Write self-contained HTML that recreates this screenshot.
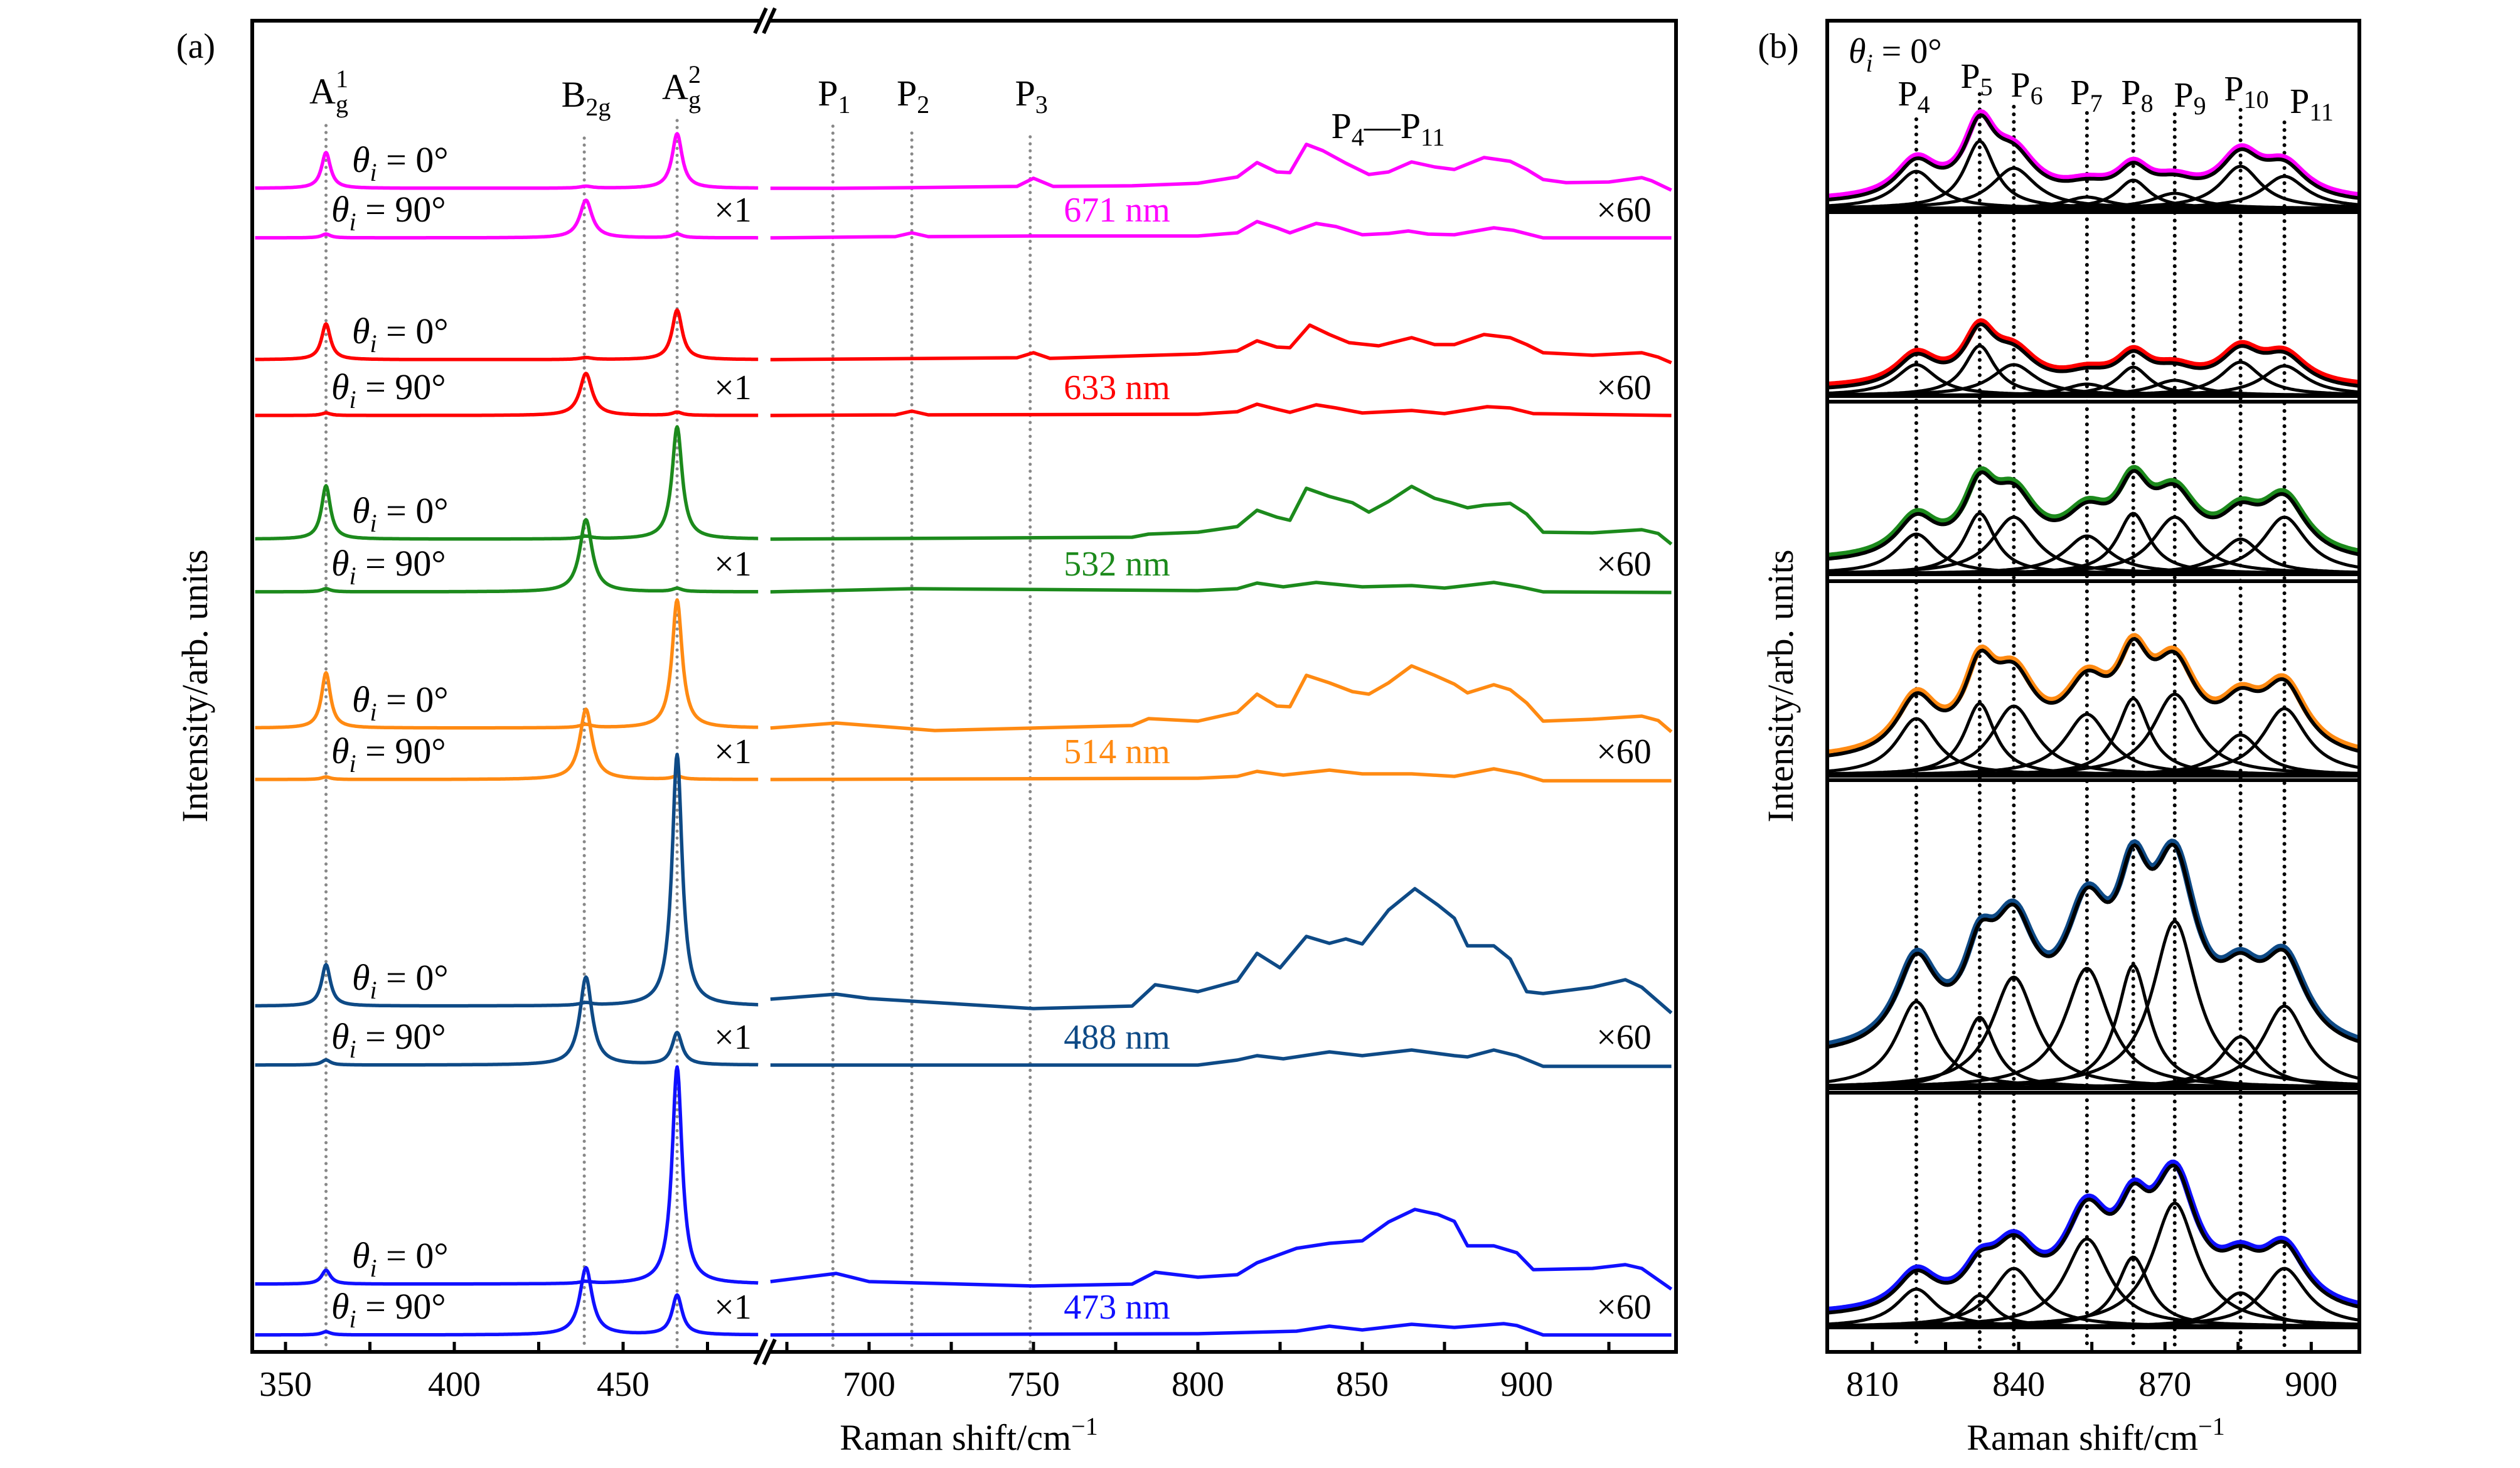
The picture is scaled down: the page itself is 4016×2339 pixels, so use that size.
<!DOCTYPE html>
<html><head><meta charset="utf-8"><style>
html,body{margin:0;padding:0;background:#fff;}
svg{display:block;font-family:"Liberation Serif",serif;}
</style></head><body>
<svg id="fig" width="4016" height="2339" viewBox="0 0 4016 2339" xmlns="http://www.w3.org/2000/svg">
<rect width="4016" height="2339" fill="#fff"/>
</svg>
<script>
// ---------- Panel (a) data ----------
const colors = ['#ff00ff','#ff0000','#1c8a1c','#ff8a12','#0e4a86','#1010ff'];
const lasers = ['671 nm','633 nm','532 nm','514 nm','488 nm','473 nm'];
const base0 = [300,573,859,1160,1603,2046];
const base90 = [379,662,943,1242,1697,2127];
const modePos = [362,439,466];
const modeHw = [1.6,2.2,1.8];
const peaks0 = [[57,3,87],[57,3,79],[85,4,179],[88,5,204],[66,4,401],[22,3,346]];
const peaks90 = [[6,60,6],[4,67,5],[5,115,5],[4,112,5],[8,140,51],[5,107,63]];
const mag0S=[670,690,713,745,750,756,780,800,812,818,824,828,833,838,845,852,858,865,872,878,887,895,900,905,912,925,935,938,944];
const mag0R=[0,0,1,3,16,3,4,8,18,41,26,25,70,60,40,22,26,42,34,30,49,43,30,14,9,10,17,12,-3];
const mag90S=[670,708,713,718,750,800,812,818,824,828,836,842,850,858,864,870,878,890,896,905,944];
const mag90R=[0,2,8,2,3,3,8,26,16,8,23,18,5,7,11,6,5,16,12,0,0];
const red0S=[670,745,750,755,800,812,818,824,828,834,840,846,855,865,872,878,887,895,900,905,920,935,940,944];
const red0R=[0,3,11,2,9,14,30,20,19,55,40,27,22,35,24,24,40,35,24,11,7,11,4,-5];
const red90S=[670,708,713,718,800,812,818,824,828,836,842,850,865,875,888,895,902,944];
const red90R=[0,1,7,1,2,6,18,10,5,17,12,4,8,3,14,12,3,0];
const grn0S=[670,780,785,800,812,818,824,828,833,840,847,852,858,865,872,877,882,887,895,900,905,920,935,940,944];
const grn0R=[0,3,8,11,20,46,35,30,81,68,58,43,60,84,65,58,50,54,57,40,11,10,15,9,-8];
const grn90S=[670,713,800,812,818,826,836,850,865,875,890,898,905,944];
const grn90R=[0,5,2,5,14,8,15,8,10,6,15,8,0,-1];
const org0S=[670,690,720,780,785,800,812,818,824,828,833,840,847,852,858,865,872,878,882,890,895,900,905,920,935,940,944];
const org0R=[0,8,-4,4,15,11,25,54,35,34,84,72,58,54,72,99,84,70,56,69,61,40,11,14,19,12,-6];
const org90S=[670,800,812,818,826,840,850,865,878,890,898,905,944];
const org90R=[0,2,5,13,7,15,9,9,5,17,9,-2,-2];
const nav0S=[670,690,700,750,780,787,800,812,818,825,833,840,845,850,858,866,873,878,882,890,895,900,905,920,930,935,944];
const nav0R=[11,19,12,-4,0,34,23,40,84,61,111,100,107,99,153,187,161,140,96,96,75,23,20,30,42,30,-11];
const nav90S=[670,800,812,818,826,840,850,865,878,882,890,897,905,944];
const nav90R=[0,0,8,15,10,21,15,24,15,13,24,15,-2,-2];
const blu0S=[670,690,700,750,780,787,800,812,818,830,840,850,858,866,873,878,882,890,897,902,920,930,935,944];
const blu0R=[4,17,4,-3,0,19,11,15,34,57,65,69,99,119,111,100,61,61,50,23,25,31,25,-8];
const blu90S=[670,800,830,840,850,865,878,893,897,905,944];
const blu90R=[0,2,6,14,8,17,12,18,15,0,0];
const right0S=[mag0S,red0S,grn0S,org0S,nav0S,blu0S];
const right0R=[mag0R,red0R,grn0R,org0R,nav0R,blu0R];
const right90S=[mag90S,red90S,grn90S,org90S,nav90S,blu90S];
const right90R=[mag90R,red90R,grn90R,org90R,nav90R,blu90R];
const ticksL=[350,400,450];
const minorL=[375,425,475];
const ticksR=[700,750,800,850,900];
const minorR=[675,725,775,825,875,925];
const guideA=[362,438.5,466];
const guideP=[689,713,749];

// ---------- Panel (b) data ----------
const compPos=[819,832,839,854,863.5,872,885.5,894.5];
const compHw=[5,3.8,5.5,5.5,4,5.5,5,5.5];
const comp1=[59,107,64,18,45,24,67,51];
const comp2=[49,79,49,18,45,24,53,47];
const comp3=[63,96,90,60,96,90,55,90];
const comp4=[90,114,110,97,122,129,64,106];
const comp5=[137,112,176,190,195,265,81,130];
const comp6=[60,50,93,140,111,197,54,93];
const comps=[comp1,comp2,comp3,comp4,comp5,comp6];
const bgB=[6,6,14,18,45,12];
const subTop=[33,338,640,926,1243,1741];
const subBase=[332,630,914,1235,1733,2114];
const ticksB=[810,840,870,900];
const minorB=[825,855,885];

const NS='http://www.w3.org/2000/svg';
const svg=document.getElementById('fig');
function mk(tag,attrs,parent){const e=document.createElementNS(NS,tag);for(const k in attrs)e.setAttribute(k,attrs[k]);(parent||svg).appendChild(e);return e;}
const xl=v=>455+(v-350)*5.38;
const xr=v=>1385+(v-700)*5.24;
const xb=v=>2984+(v-810)*7.77;
const lor=(x,c,h,w)=>h/(1+((x-c)/w)*((x-c)/w));

guideA.forEach((v,i)=>{const y0=[200,220,192][i];
 const l=mk('line',{x1:xl(v),x2:xl(v),y1:y0,y2:2150,stroke:'#888','stroke-width':5,'stroke-dasharray':'0.1 11','stroke-linecap':'round'});
 
 });
guideP.forEach((v,i)=>{const y0=[201,212,218][i];
 const l=mk('line',{x1:xr(v),x2:xr(v),y1:y0,y2:2150,stroke:'#888','stroke-width':5,'stroke-dasharray':'0.1 11','stroke-linecap':'round'});
 
 });

for(let s=0;s<6;s++){
 [[base0[s],peaks0[s],right0S[s],right0R[s],'0'],[base90[s],peaks90[s],right90S[s],right90R[s],'90']].forEach(([b,pk,S,R,ang])=>{
  let pts=[];
  for(let v=341;v<=490;v+=0.25){let y=0;for(let k=0;k<3;k++)y+=lor(v,modePos[k],pk[k],modeHw[k]);pts.push(xl(v).toFixed(1)+','+(b-y).toFixed(1));}
  const p1=mk('polyline',{points:pts.join(' '),fill:'none',stroke:colors[s],'stroke-width':5.5,'stroke-linejoin':'round'});
  
  
  const pts2=S.map((v,i)=>xr(v).toFixed(1)+','+(b-R[i]).toFixed(1));
  const p2=mk('polyline',{points:pts2.join(' '),fill:'none',stroke:colors[s],'stroke-width':5.5,'stroke-linejoin':'round'});
  
  
 });
 const t0=mk('text',{x:561,y:base0[s]-26,'font-size':58,'font-style':'italic'});t0.innerHTML='θ<tspan font-size="40" dy="14">i</tspan><tspan font-style="normal" dy="-14"> = 0°</tspan>';
 
 
 const t9=mk('text',{x:528,y:base90[s]-26,'font-size':58,'font-style':'italic'});t9.innerHTML='θ<tspan font-size="40" dy="14">i</tspan><tspan font-style="normal" dy="-14"> = 90°</tspan>';
 
 
 const x1=mk('text',{x:1168,y:base90[s]-26,'font-size':56,'text-anchor':'middle'});x1.textContent='×1';
 
 
 const nm=mk('text',{x:1780,y:base90[s]-26,'font-size':56,'text-anchor':'middle',fill:colors[s]});nm.textContent=lasers[s];
 
 
 const x6=mk('text',{x:2588,y:base90[s]-26,'font-size':56,'text-anchor':'middle'});x6.textContent='×60';
 
 
}

const fa=mk('rect',{x:402,y:33,width:2269,height:2121,fill:'none',stroke:'#000','stroke-width':6});


[33,2154].forEach(y=>{
 const wb=mk('rect',{x:1212,y:y-6,width:14,height:12,fill:'#fff'});
 
 
 [-7,7].forEach(d=>{const l=mk('line',{x1:1210+d,y1:y+20,x2:1228+d,y2:y-20,stroke:'#000','stroke-width':6});
 
 });
});
ticksL.concat(minorL).forEach(v=>{const l=mk('line',{x1:xl(v),x2:xl(v),y1:2154,y2:2138,stroke:'#000','stroke-width':5});});
ticksR.concat(minorR).forEach(v=>{const l=mk('line',{x1:xr(v),x2:xr(v),y1:2154,y2:2138,stroke:'#000','stroke-width':5});});
ticksL.forEach(v=>{const t=mk('text',{x:xl(v),y:2224,'font-size':56,'text-anchor':'middle'});t.textContent=v;});
ticksR.forEach(v=>{const t=mk('text',{x:xr(v),y:2224,'font-size':56,'text-anchor':'middle'});t.textContent=v;});

function lab(x,y,html,name,size){const t=mk('text',{x:x,y:y,'font-size':size||58,'text-anchor':'middle'});t.innerHTML=html;return t;}
lab(524,165,'A<tspan font-size="40" dy="14">g</tspan><tspan font-size="40" dx="-20" dy="-40">1</tspan>','mode-label-ag1');
lab(934,170,'B<tspan font-size="40" dy="14">2g</tspan>','mode-label-b2g');
lab(1086,158,'A<tspan font-size="40" dy="14">g</tspan><tspan font-size="40" dx="-20" dy="-40">2</tspan>','mode-label-ag2');
lab(xr(689)+2,168,'P<tspan font-size="40" dy="12">1</tspan>','peak-label-p1');
lab(xr(713)+2,168,'P<tspan font-size="40" dy="12">2</tspan>','peak-label-p2');
lab(xr(749)+2,168,'P<tspan font-size="40" dy="12">3</tspan>','peak-label-p3');
lab(2212,220,'P<tspan font-size="40" dy="12">4</tspan><tspan dy="-12">—P</tspan><tspan font-size="40" dy="12">11</tspan>','peak-label-p4-p11');
lab(312,92,'(a)','panel-a-label',56);
lab(2834,92,'(b)','panel-b-label',56);
const ya=mk('text',{x:0,y:0,'font-size':58,'text-anchor':'middle',transform:'translate(330,1093) rotate(-90)'});ya.textContent='Intensity/arb. units';


const yb=mk('text',{x:0,y:0,'font-size':58,'text-anchor':'middle',transform:'translate(2857,1093) rotate(-90)'});yb.textContent='Intensity/arb. units';


lab(1544,2310,'Raman shift/cm<tspan font-size="40" dy="-24">−1</tspan>','x-axis-title-a');
lab(3340,2310,'Raman shift/cm<tspan font-size="40" dy="-24">−1</tspan>','x-axis-title-b');

const gy0=[190,150,170,180,180,182,175,195];
compPos.forEach((v,i)=>{const l=mk('line',{x1:xb(v),x2:xb(v),y1:gy0[i],y2:2150,stroke:'#000','stroke-width':6,'stroke-dasharray':'0.1 12','stroke-linecap':'round'});
 
 });
for(let s=0;s<6;s++){
 const b=subBase[s],h=comps[s];
 let env=[],data=[];
 for(let v=800.6;v<=910.2;v+=0.4){let y=bgB[s];for(let k=0;k<8;k++)y+=lor(v,compPos[k],h[k],compHw[k]);env.push(xb(v).toFixed(1)+','+(b-y).toFixed(1));data.push(xb(v).toFixed(1)+','+(b-y-4).toFixed(1));}
 const d=mk('polyline',{points:data.join(' '),fill:'none',stroke:colors[s],'stroke-width':11,'stroke-linejoin':'round'});
 
 
 for(let k=0;k<8;k++){let pts=[];for(let v=800.6;v<=910.2;v+=0.4)pts.push(xb(v).toFixed(1)+','+(b-lor(v,compPos[k],h[k],compHw[k])).toFixed(1));
  const c=mk('polyline',{points:pts.join(' '),fill:'none',stroke:'#000','stroke-width':5});
  
  }
 const e=mk('polyline',{points:env.join(' '),fill:'none',stroke:'#000','stroke-width':6});
 
 
 const baseL=mk('line',{x1:2912,x2:3760,y1:b+2,y2:b+2,stroke:'#000','stroke-width':4});
 
 
}
const wr=mk('rect',{x:2880,y:0,width:32,height:2339,fill:'#fff'});


const wr2=mk('rect',{x:3760,y:0,width:80,height:2339,fill:'#fff'});


const fb=mk('rect',{x:2912,y:33,width:848,height:2121,fill:'none',stroke:'#000','stroke-width':6});


subTop.slice(1).forEach(y=>{const l=mk('line',{x1:2912,x2:3760,y1:y,y2:y,stroke:'#000','stroke-width':6});});
ticksB.concat(minorB).forEach(v=>{const l=mk('line',{x1:xb(v),x2:xb(v),y1:2154,y2:2138,stroke:'#000','stroke-width':5});});
ticksB.forEach(v=>{const t=mk('text',{x:xb(v),y:2224,'font-size':56,'text-anchor':'middle'});t.textContent=v;});
const tb=mk('text',{x:2946,y:100,'font-size':56,'font-style':'italic'});tb.innerHTML='θ<tspan font-size="40" dy="14">i</tspan><tspan font-style="normal" dy="-14"> = 0°</tspan>';


const pLab=[[3050,168,'4'],[3150,140,'5'],[3230,154,'6'],[3325,166,'7'],[3406,166,'8'],[3490,170,'9'],[3580,160,'10'],[3684,180,'11']];
pLab.forEach(([x,y,n])=>{lab(x,y,'P<tspan font-size="40" dy="12">'+n+'</tspan>','component-label-p'+n,56);});
</script>
</body></html>
